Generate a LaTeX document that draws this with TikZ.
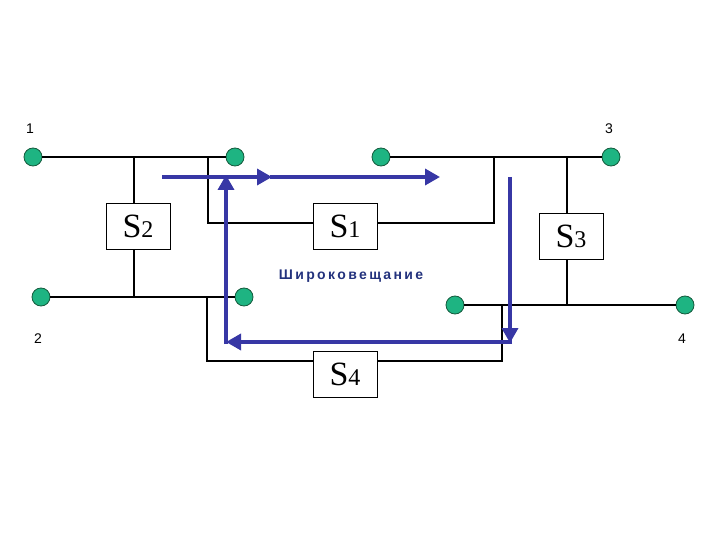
\documentclass[tikz,border=0pt]{standalone}
\usepackage{fontspec}
\setmainfont{Liberation Serif}
\newfontfamily\lsans{Liberation Sans}
\usetikzlibrary{arrows.meta}
\definecolor{dotgreen}{RGB}{30,180,130}
\definecolor{dotedge}{RGB}{20,90,60}
\definecolor{flowblue}{RGB}{55,55,165}
\definecolor{textblue}{RGB}{35,50,125}
\begin{document}
\begin{tikzpicture}[x=1pt,y=-1pt,
  station/.style={circle,fill=dotgreen,draw=dotedge,line width=0.8pt,minimum size=18pt,inner sep=0pt},
  bridge/.style={draw=black,line width=0.8pt,fill=white,minimum width=64pt,minimum height=46pt,inner sep=0pt,font=\fontsize{34}{34}\selectfont},
  wire/.style={line width=1.3pt,black},
  flow/.style={line width=3.5pt,flowblue,-{Triangle[length=15pt,width=16pt]}},
  num/.style={font=\lsans\fontsize{14}{14}\selectfont}]
\useasboundingbox (0,0) rectangle (720,540);
% stations
\node[station] (n1) at (33,157) {};
\node[station] (n1b) at (235,157) {};
\node[station] (n3a) at (381,157) {};
\node[station] (n3) at (611,157) {};
\node[station] (n2) at (41,297) {};
\node[station] (n2b) at (244,297) {};
\node[station] (n4a) at (455,305) {};
\node[station] (n4) at (685,305) {};
% numbers
\node[num] (l1) at (30,129) {1};
\node[num] (l3) at (609,129) {3};
\node[num] (l2) at (38,339) {2};
\node[num] (l4) at (682,339) {4};
% bridges
\node[bridge] (s2) at (138,226) {S\fontsize{24}{24}\selectfont 2};
\node[bridge] (s1) at (345,226) {S\fontsize{24}{24}\selectfont 1};
\node[bridge] (s3) at (571,236) {S\fontsize{24}{24}\selectfont 3};
\node[bridge] (s4) at (345,374) {S\fontsize{24}{24}\selectfont 4};
% segments
\draw[wire] (n1) -- (n1b);
\draw[wire] (n3a) -- (n3);
\draw[wire] (n2) -- (n2b);
\draw[wire] (n4a) -- (n4);
% bridge links
\coordinate (t2) at (134,157);
\coordinate (b2) at (134,297);
\draw[wire] (t2) -- (s2.north -| t2);
\draw[wire] (s2.south -| t2) -- (b2);
\coordinate (t3) at (567,158);
\coordinate (b3) at (567,306);
\draw[wire] (t3) -- (s3.north -| t3);
\draw[wire] (s3.south -| t3) -- (b3);
\coordinate (s1l) at (208,157);
\coordinate (s1r) at (494,158);
\draw[wire] (s1l) -- (208,223) -- (s1.west |- 0,223);
\draw[wire] (s1r) -- (494,223) -- (s1.east |- 0,223);
\coordinate (s4l) at (207,297);
\coordinate (s4r) at (502,306);
\draw[wire] (s4l) -- (207,361) -- (s4.west |- 0,361);
\draw[wire] (s4r) -- (502,361) -- (s4.east |- 0,361);
% flow
\coordinate (f0) at (162,177);
\coordinate (f1) at (272,177);
\coordinate (f2) at (440,177);
\draw[flow] (f0) -- (f1);
\draw[flow] (270,177) -- (f2);
\coordinate (d0) at (510,177);
\coordinate (d1) at (510,343);
\draw[flow] (d0) -- (d1);
\coordinate (h0) at (512,342);
\coordinate (h1) at (226,342);
\draw[flow] (h0) -- (h1);
\coordinate (u0) at (226,344);
\coordinate (u1) at (226,175);
\draw[flow] (u0) -- (u1);
\node[font=\lsans\bfseries\fontsize{14}{14}\selectfont,text=textblue] (cap) at (351,276) {Ш\,и\,р\,о\,к\,о\,в\,е\,щ\,а\,н\,и\,е};
\end{tikzpicture}
\end{document}
